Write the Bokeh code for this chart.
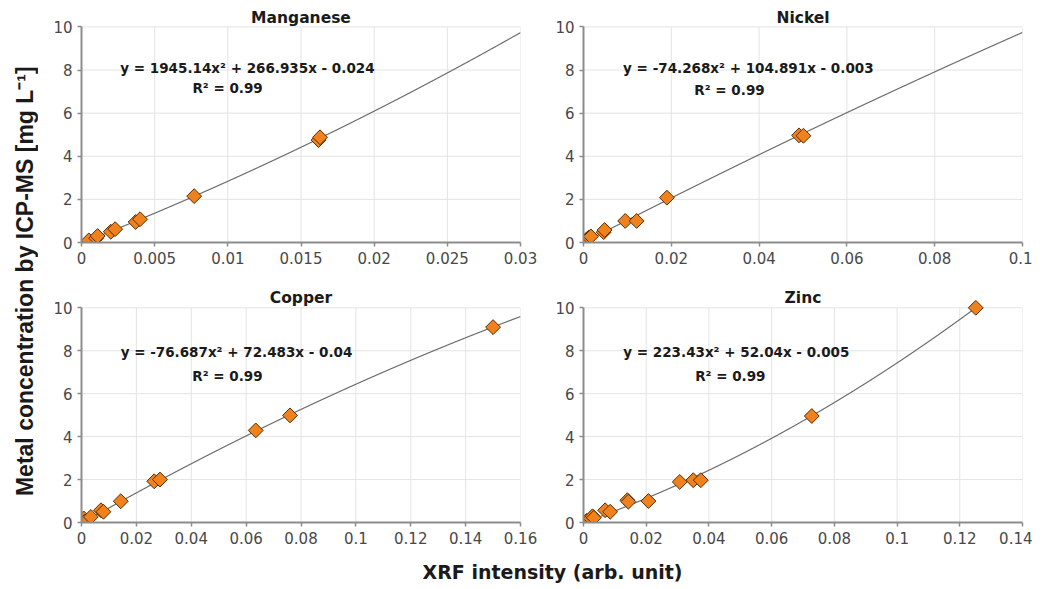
import numpy as np
from bokeh.plotting import figure
from bokeh.layouts import row, column
from bokeh.models import FixedTicker
from bokeh.core.properties import value
from bokeh.embed import file_html
from bokeh.resources import INLINE

# ---------------- data ----------------
mn_x = [0.0005, 0.0010, 0.0011, 0.0020, 0.0023, 0.0037, 0.0040, 0.0077, 0.0162, 0.0163]
mn_y = [0.10, 0.20, 0.30, 0.50, 0.62, 0.95, 1.08, 2.15, 4.75, 4.88]
mn_coef = [1945.14, 266.935, -0.024]
mn_eq = "y = 1945.14x² + 266.935x - 0.024"

ni_x = [0.0000, 0.0005, 0.0009, 0.0013, 0.0017, 0.0046, 0.0048, 0.0095, 0.0121, 0.0190, 0.0491, 0.0501]
ni_y = [0.00, 0.10, 0.18, 0.24, 0.28, 0.48, 0.58, 1.00, 1.00, 2.08, 4.97, 4.95]
ni_coef = [-74.268, 104.891, -0.003]
ni_eq = "y = -74.268x² + 104.891x - 0.003"

cu_x = [0.0000, 0.0005, 0.0008, 0.0012, 0.0034, 0.0071, 0.0080, 0.0143, 0.0265, 0.0286, 0.0635, 0.0760, 0.1500]
cu_y = [0.00, 0.10, 0.19, 0.05, 0.26, 0.57, 0.50, 0.99, 1.92, 2.00, 4.29, 4.99, 9.10]
cu_coef = [-76.687, 72.483, -0.04]
cu_eq = "y = -76.687x² + 72.483x - 0.04"

zn_x = [0.0000, 0.0010, 0.0023, 0.0029, 0.0033, 0.0069, 0.0085, 0.0140, 0.0143, 0.0207, 0.0307, 0.0350, 0.0374, 0.0728, 0.1251]
zn_y = [0.00, 0.08, 0.19, 0.29, 0.22, 0.57, 0.50, 1.04, 0.97, 1.00, 1.89, 1.97, 1.97, 4.96, 10.00]
zn_coef = [223.43, 52.04, -0.005]
zn_eq = "y = 223.43x² + 52.04x - 0.005"

r2_text = "R² = 0.99"

mn_ticks = [0, 0.005, 0.01, 0.015, 0.02, 0.025, 0.03]
mn_labels = ["0", "0.005", "0.01", "0.015", "0.02", "0.025", "0.03"]
ni_ticks = [0, 0.02, 0.04, 0.06, 0.08, 0.1]
ni_labels = ["0", "0.02", "0.04", "0.06", "0.08", "0.1"]
cu_ticks = [0, 0.02, 0.04, 0.06, 0.08, 0.1, 0.12, 0.14, 0.16]
cu_labels = ["0", "0.02", "0.04", "0.06", "0.08", "0.1", "0.12", "0.14", "0.16"]
zn_ticks = [0, 0.02, 0.04, 0.06, 0.08, 0.1, 0.12, 0.14]
zn_labels = ["0", "0.02", "0.04", "0.06", "0.08", "0.1", "0.12", "0.14"]
y_ticks = [0, 2, 4, 6, 8, 10]
y_max = 10

titles = ["Manganese", "Nickel", "Copper", "Zinc"]
x_label = "XRF intensity (arb. unit)"
y_label = "Metal concentration by ICP-MS  [mg L⁻¹]"

# text positions (data units): equation center, R2 center
mn_txt = [(0.01134, 8.11), (0.00998, 7.16)]
ni_txt = [(0.03755, 8.11), (0.03326, 7.06)]
cu_txt = [(0.0565, 7.94), (0.0532, 6.81)]
zn_txt = [(0.04874, 7.94), (0.04683, 6.81)]

# ---------------- styling ----------------
FONT = "DejaVu Sans"
ORANGE = "#F0821E"
EDGE = "#5A2D00"
AX = "#8C8C8C"
GRID = "#E4E4E4"
Y_TOP = 10.9   # headroom above the 10 line (for the title and the top marker)


def panel(xs, ys, coef, eq, txt, ticks, labels, title, xmax,
          width, height, mb_left, mb_right, mb_top, mb_bottom, title_y):
    p = figure(width=width, height=height, x_range=(0, xmax), y_range=(0, Y_TOP),
               output_backend="svg", toolbar_location=None,
               min_border_left=mb_left, min_border_right=mb_right,
               min_border_top=mb_top, min_border_bottom=mb_bottom)
    p.outline_line_color = None
    p.background_fill_color = "white"
    p.border_fill_color = "white"
    p.grid.visible = False

    p.xaxis.ticker = FixedTicker(ticks=ticks)
    p.xaxis.major_label_overrides = {float(t): l for t, l in zip(ticks, labels)}
    p.yaxis.ticker = FixedTicker(ticks=y_ticks)
    p.yaxis.bounds = (0, y_max)
    for ax in (p.xaxis[0], p.yaxis[0]):
        ax.axis_line_color = AX
        ax.axis_line_width = 2
        ax.major_tick_line_color = AX
        ax.major_tick_line_width = 1.5
        ax.major_tick_out = 4
        ax.major_tick_in = 0
        ax.minor_tick_line_color = None
        ax.major_label_text_font = FONT
        ax.major_label_text_font_size = "15px"
        ax.major_label_text_color = "#484848"
        ax.major_label_standoff = 5

    # grid lines limited to the 0..10 plot box
    gx = [t for t in ticks if t > 0]
    p.segment(x0=gx, y0=[0] * len(gx), x1=gx, y1=[y_max] * len(gx),
              line_color=GRID, line_width=1)
    gy = [t for t in y_ticks if t > 0]
    p.segment(x0=[0] * len(gy), y0=gy, x1=[xmax] * len(gy), y1=gy,
              line_color=GRID, line_width=1)

    # trendline from the fitted coefficients, kept inside the 0..10 plot box
    lx = np.linspace(0, xmax, 2000)
    ly = coef[0] * lx ** 2 + coef[1] * lx + coef[2]
    keep = ly <= y_max
    p.line(lx[keep], ly[keep], line_color="#6E6E6E", line_width=1.2)

    p.scatter(xs, ys, marker="square", angle=np.pi / 4, size=10.5,
              fill_color=ORANGE, line_color=EDGE, line_width=1)

    p.text(x=[txt[0][0], txt[1][0]], y=[txt[0][1], txt[1][1]], text=[eq, r2_text],
           text_font=value(FONT), text_font_style="bold", text_font_size="13.5px",
           text_color="#1A1A1A", text_align="center", text_baseline="middle")

    p.text(x=[xmax / 2], y=[title_y], text=[title],
           text_font=value(FONT), text_font_style="bold", text_font_size="15.5px",
           text_color="#1A1A1A", text_align="center", text_baseline="middle")
    return p


p1 = panel(mn_x, mn_y, mn_coef, mn_eq, mn_txt, mn_ticks, mn_labels, titles[0], 0.03,
           501, 272, 43, 19, 7, 30, 10.43)
p2 = panel(ni_x, ni_y, ni_coef, ni_eq, ni_txt, ni_ticks, ni_labels, titles[1], 0.1,
           493, 272, 44, 10, 7, 30, 10.43)
p3 = panel(cu_x, cu_y, cu_coef, cu_eq, cu_txt, cu_ticks, cu_labels, titles[2], 0.16,
           501, 280, 43, 19, 16, 30, 10.48)
p4 = panel(zn_x, zn_y, zn_coef, zn_eq, zn_txt, zn_ticks, zn_labels, titles[3], 0.14,
           493, 280, 44, 10, 16, 30, 10.48)


def blank(w, h):
    f = figure(width=w, height=h, x_range=(0, w), y_range=(0, h),
               output_backend="svg", toolbar_location=None,
               x_axis_type=None, y_axis_type=None,
               min_border=0)
    f.outline_line_color = None
    f.grid.visible = False
    return f


ylab = blank(38, 552)
ylab.text(x=[24], y=[274.5], text=[y_label], angle=np.pi / 2,
          text_font=value("Liberation Sans"), text_font_style="bold",
          text_font_size="23px", text_color="#1A1A1A",
          text_align="center", text_baseline="middle")

xlab = blank(1032, 35)
xlab.text(x=[552], y=[15.5], text=[x_label],
          text_font=value(FONT), text_font_style="bold",
          text_font_size="19px", text_color="#1A1A1A",
          text_align="center", text_baseline="middle")

layout = column(row(ylab, column(row(p1, p2), row(p3, p4))), xlab)

open("out.html", "w").write(file_html(layout, INLINE))
